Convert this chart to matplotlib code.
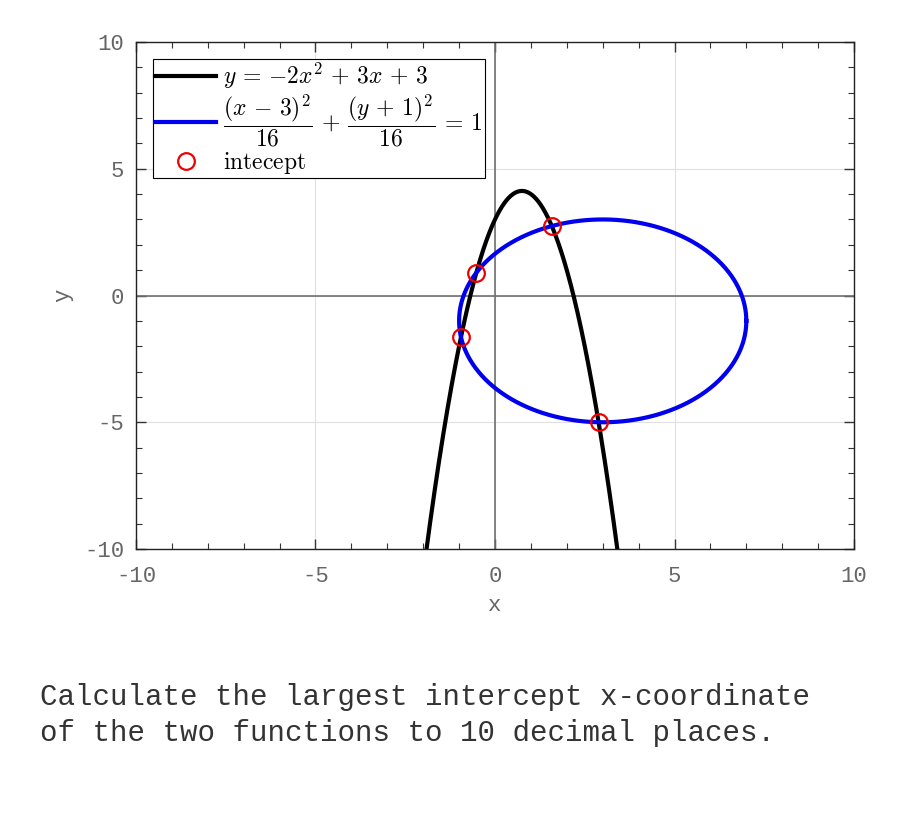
import numpy as np
import matplotlib
matplotlib.use("Agg")
import matplotlib.pyplot as plt
from matplotlib.ticker import MultipleLocator

# Parabola y = a x^2 + b x + c
para_a, para_b, para_c = -2.0, 3.0, 3.0
# Circle (x-h)^2/r2 + (y-k)^2/r2 = 1
circ_h, circ_k, circ_r2 = 3.0, -1.0, 16.0

x_ticks = [-10, -5, 0, 5, 10]
y_ticks = [-10, -5, 0, 5, 10]
legend_labels = [r"$y\,=\,{-2}x^2\,+\,3x\,+\,3$",
                 r"$\dfrac{(x\,-\,3)^2}{16}\,+\,\dfrac{(y\,+\,1)^2}{16}\,=\,1$",
                 r"$\mathrm{intecept}$"]
question = "Calculate the largest intercept x-coordinate\nof the two functions to 10 decimal places."

plt.rcParams['mathtext.fontset'] = 'cm'
plt.rcParams['axes.unicode_minus'] = False

fig = plt.figure(figsize=(9, 8.25), dpi=100)
ax = fig.add_axes([0.1511, 0.3345, 0.7978, 0.6146])

xs = np.linspace(-10, 10, 2001)
ys = para_a * xs**2 + para_b * xs + para_c
r = np.sqrt(circ_r2)
t = np.linspace(0, 2 * np.pi, 1001)
cx = circ_h + r * np.cos(t)
cy = circ_k + r * np.sin(t)

# intercepts: substitute parabola into circle
p1 = np.poly1d([1.0, -circ_h]) ** 2
p2 = np.poly1d([para_a, para_b, para_c - circ_k]) ** 2
roots = (p1 + p2 - circ_r2).roots
ix = np.sort(roots[np.isreal(roots)].real)
iy = para_a * ix**2 + para_b * ix + para_c

ax.grid(True, color='#e0e0e0', linewidth=0.8)
ax.set_axisbelow(True)
ax.axhline(0, color='#707070', linewidth=1.2, zorder=1)
ax.axvline(0, color='#707070', linewidth=1.2, zorder=1)

l1, = ax.plot(xs, ys, color='black', linewidth=3, zorder=3)
l2, = ax.plot(cx, cy, color='#0000ee', linewidth=3, zorder=3)
l3, = ax.plot(ix, iy, 'o', markerfacecolor='none', markeredgecolor='#ee0000',
              markersize=12, markeredgewidth=1.6, linestyle='none', zorder=4)

ax.set_xlim(-10, 10)
ax.set_ylim(-10, 10)
ax.set_xticks(x_ticks)
ax.set_yticks(y_ticks)
ax.xaxis.set_minor_locator(MultipleLocator(1))
ax.yaxis.set_minor_locator(MultipleLocator(1))
ax.tick_params(which='both', direction='in', top=True, right=True, color='#333333')
ax.tick_params(which='major', length=7, width=1)
ax.tick_params(which='minor', length=4, width=0.8)
ax.tick_params(labelsize=16, labelcolor='#666666')
ax.tick_params(axis='x', pad=12)
ax.tick_params(axis='y', pad=8.5)
for lab in ax.get_xticklabels() + ax.get_yticklabels():
    lab.set_family('Liberation Mono')
for sp in ax.spines.values():
    sp.set_color('#222222')
    sp.set_linewidth(1.0)

ax.set_xlabel('x', family='Liberation Mono', fontsize=16, color='#666666', labelpad=6)
ax.set_ylabel('y', family='Liberation Mono', fontsize=16, color='#666666', labelpad=8)

leg = ax.legend([l1, l2, l3], legend_labels, loc='upper left', fontsize=17,
                frameon=True, fancybox=False, edgecolor='black', framealpha=1,
                borderpad=0.1, labelspacing=0.05, handlelength=2.6, handletextpad=0.3,
                borderaxespad=0.7)
leg.get_frame().set_linewidth(0.8)

fig.text(40 / 900, 1 - 715 / 825, question, family='Liberation Mono', fontsize=21,
         color='#333333', va='center', ha='left', linespacing=1.4)

fig.savefig('out.png', dpi=100)
